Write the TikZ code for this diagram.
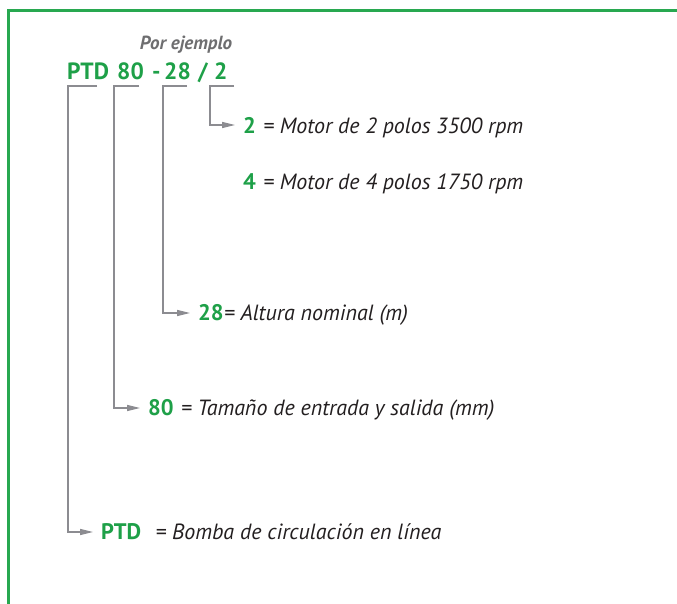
\documentclass[tikz,border=0pt]{standalone}
\usepackage{fontspec}
\setmainfont{PT Sans}
\usetikzlibrary{arrows.meta}
\definecolor{codegreen}{RGB}{30,160,72}
\definecolor{framegreen}{RGB}{40,168,80}
\definecolor{linegray}{RGB}{140,140,145}
\definecolor{lblgray}{RGB}{110,110,112}
\definecolor{txt}{RGB}{35,31,32}
\begin{document}
\begin{tikzpicture}[x=1pt,y=-1pt,
  code/.style={inner sep=0pt,text=codegreen,font=\fontsize{23.5}{26}\selectfont\bfseries},
  keycode/.style={inner sep=0pt,text=codegreen,font=\fontsize{22.5}{25}\selectfont\bfseries},
  desc/.style={inner sep=0pt,text=txt,font=\fontsize{22}{25}\selectfont\itshape,anchor=base west},
  bracket/.style={draw=linegray,line width=1.3pt,-{Triangle[length=13pt,width=6pt]}},
]
\useasboundingbox (0,0) rectangle (677,604);
% frame
\draw[framegreen,line width=3pt] (8,604) -- (8,11) -- (677,11);
% heading
\node[inner sep=0pt,anchor=base,text=lblgray,font=\fontsize{19}{22}\selectfont\bfseries\itshape] (ej) at (186,50) {Por ejemplo};
\node[code,anchor=base west] (hPTD) at (67,80) {PTD};
\node[code,anchor=base west] (h80) at (117,80) {80};
\node[code,anchor=base west] (hdash) at (152,80) {-};
\node[code,anchor=base west] (h28) at (164,80) {28};
\node[code,anchor=base west] (hsl) at (198,80) {/};
\node[code,anchor=base west] (h2) at (214,80) {2};
% bracket tops
\coordinate (a1) at (68,86);  \coordinate (b1) at (97,86);
\coordinate (a2) at (114,86); \coordinate (b2) at (139,86);
\coordinate (a3) at (163,86); \coordinate (b3) at (187,86);
\coordinate (a4) at (210,86); \coordinate (b4) at (234,86);
% keys
\node[keycode,anchor=west] (k2) at (243,125) {2};
\node[desc] (d2) at ([xshift=7pt]k2.base east) {= Motor de 2 polos 3500 rpm};
\node[keycode,anchor=west] (k4) at (243,182) {4};
\node[desc] (d4) at ([xshift=7pt]k4.base east) {= Motor de 4 polos 1750 rpm};
\node[keycode,anchor=west] (k28) at (198,313) {28};
\node[desc] (d28) at ([xshift=0pt]k28.base east) {= Altura nominal (m)};
\node[keycode,anchor=west] (k80) at (148,408) {80};
\node[desc] (d80) at ([xshift=7pt]k80.base east) {= Tamaño de entrada y salida (mm)};
\node[keycode,anchor=west] (kPTD) at (101,532) {PTD};
\node[desc] (dPTD) at ([xshift=14pt]kPTD.base east) {= Bomba de circulación en línea};
% brackets
\draw[bracket] (b4) -- (a4) |- ([xshift=-8pt]k2.west);
\draw[bracket] (b3) -- (a3) |- ([xshift=-8pt]k28.west);
\draw[bracket] (b2) -- (a2) |- ([xshift=-8pt]k80.west);
\draw[bracket] (b1) -- (a1) |- ([xshift=-8pt]kPTD.west);
\end{tikzpicture}
\end{document}
